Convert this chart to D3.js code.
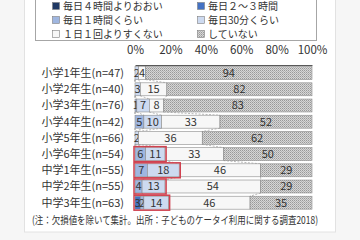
<!DOCTYPE html>
<html lang="ja">

<head>
    <meta charset="utf-8">
    <script src='https://d3js.org/d3.v7.min.js'></script>
</head>

<body style="margin:0;background:#f6f6f6;">

    <style>
        svg text {
            font-family: "Noto Sans CJK JP", "Noto Sans", sans-serif;
            fill: #333;
        }
    </style>

    <script>
        // rows (top to bottom)
        let grades = ["小学1年生(n=47)", "小学2年生(n=40)", "小学3年生(n=76)", "小学4年生(n=42)", "小学5年生(n=66)",
            "小学6年生(n=54)", "中学1年生(n=55)", "中学2年生(n=55)", "中学3年生(n=63)"];

        // series, percent per grade
        let h4 = [0, 0, 0, 0, 0, 0, 0, 0, 0];
        let h23 = [0, 0, 0, 0, 0, 0, 0, 0, 3];
        let h1 = [0, 0, 1, 5, 0, 6, 7, 4, 2];
        let m30 = [2, 3, 7, 10, 2, 11, 18, 13, 14];
        let lt1 = [4, 15, 8, 33, 36, 33, 46, 54, 46];
        let none = [94, 82, 83, 52, 62, 50, 29, 29, 35];

        let seriesNames = ["毎日４時間よりおおい", "毎日２～３時間", "毎日１時間くらい", "毎日30分くらい", "１日１回よりすくない", "していない"];
        let tickValues = [0, 20, 40, 60, 80, 100];
        let marked = ["小学6年生(n=54)", "中学1年生(n=55)", "中学2年生(n=55)", "中学3年生(n=63)"];

        let keys = ["h4", "h23", "h1", "m30", "lt1", "none"];
        let colors = ["#1f3864", "#4472c4", "#9fb6e0", "#cddaf0", "#f7f7f7", "url(#dots)"];

        let rows = grades.map(function(g, i) {
            return { grade: g, h4: h4[i], h23: h23[i], h1: h1[i], m30: m30[i], lt1: lt1[i], none: none[i] };
        });

        let svg = d3.select("body").append("svg")
            .attr("width", 360)
            .attr("height", 240)
            .style("display", "block");

        // dotted fill like the excel pattern
        let pat = svg.append("defs").append("pattern")
            .attr("id", "dots")
            .attr("width", 2).attr("height", 2)
            .attr("patternUnits", "userSpaceOnUse");
        pat.append("rect").attr("width", 2).attr("height", 2).attr("fill", "#d6d6d6");
        pat.append("rect").attr("width", 1).attr("height", 1).attr("fill", "#999");
        pat.append("rect").attr("x", 1).attr("y", 1).attr("width", 1).attr("height", 1).attr("fill", "#b2b2b2");

        // white card
        svg.append("rect")
            .attr("x", 24.5).attr("y", -2)
            .attr("width", 311).attr("height", 234)
            .attr("fill", "#fff")
            .attr("stroke", "#e2e2e2");

        // legend box
        svg.append("rect")
            .attr("x", 35.5).attr("y", -1.5)
            .attr("width", 281).attr("height", 42)
            .attr("fill", "#fff")
            .attr("stroke", "#a6a6a6");

        let leg = svg.selectAll(".leg")
            .data(seriesNames)
            .enter()
            .append("g")
            .attr("class", "leg")
            .attr("transform", function(d, i) {
                return "translate(" + (i % 2 == 0 ? 52 : 197) + "," + (6 + Math.floor(i / 2) * 14) + ")";
            });
        leg.append("rect")
            .attr("x", 0.5).attr("y", -3.5)
            .attr("width", 7).attr("height", 7)
            .attr("fill", function(d, i) { return colors[i]; })
            .attr("stroke", "#7f7f7f")
            .attr("stroke-width", 0.6);
        leg.append("text")
            .attr("x", 11)
            .attr("dy", "0.36em")
            .style("font-size", "10px")
            .text(function(d) { return d; });

        let x = d3.scaleLinear().domain([0, 1]).range([135, 312]);
        let y = d3.scaleBand().domain(grades).range([65, 210.8]).paddingInner(0.2).paddingOuter(0.1);

        let stacked = d3.stack().keys(keys).offset(d3.stackOffsetExpand)(rows);

        // axis on top
        let axis = svg.append("g")
            .attr("transform", "translate(0,65)")
            .call(d3.axisTop(d3.scaleLinear().domain([0, 100]).range([135, 312]))
                .tickValues(tickValues)
                .tickSize(0)
                .tickPadding(11)
                .tickFormat(function(d) { return d + "%"; }));
        axis.select(".domain").attr("stroke", "#595959").attr("stroke-width", 1.2);
        axis.selectAll("text")
            .style("font-size", "11.5px")
            .style("font-family", "'Noto Sans CJK JP', sans-serif")
            .attr("fill", "#333");

        // row labels
        svg.selectAll(".rowlab")
            .data(grades)
            .enter()
            .append("text")
            .attr("class", "rowlab")
            .attr("x", 124)
            .attr("y", function(d) { return y(d) + y.bandwidth() / 2; })
            .attr("dy", "0.36em")
            .attr("text-anchor", "end")
            .style("font-size", "11px")
            .text(function(d) { return d; });

        // series lines between bars
        let lines = [];
        stacked.slice(0, keys.length - 1).forEach(function(s) {
            for (let i = 0; i < s.length - 1; i++) {
                lines.push({ x1: x(s[i][1]), y1: y(grades[i]) + y.bandwidth(), x2: x(s[i + 1][1]), y2: y(grades[i + 1]) });
            }
        });
        svg.selectAll(".sline")
            .data(lines)
            .enter()
            .append("line")
            .attr("class", "sline")
            .attr("x1", function(d) { return d.x1; })
            .attr("y1", function(d) { return d.y1; })
            .attr("x2", function(d) { return d.x2; })
            .attr("y2", function(d) { return d.y2; })
            .attr("stroke", "#9a9a9a")
            .attr("stroke-width", 0.7)
            .attr("stroke-dasharray", "2,1.5");

        let layer = svg.selectAll(".layer")
            .data(stacked)
            .enter()
            .append("g")
            .attr("class", "layer")
            .attr("fill", function(d, i) { return colors[i]; });

        layer.selectAll("rect")
            .data(function(d) { return d; })
            .enter()
            .append("rect")
            .attr("x", function(d) { return x(d[0]); })
            .attr("y", function(d) { return y(d.data.grade); })
            .attr("width", function(d) { return x(d[1]) - x(d[0]); })
            .attr("height", y.bandwidth())
            .attr("stroke", "#8c8c8c")
            .attr("stroke-width", 0.6);

        // value labels
        layer.selectAll("text")
            .data(function(d) {
                return d.map(function(p) { p.key = d.key; return p; });
            })
            .enter()
            .filter(function(d) { return d.data[d.key] > 0; })
            .append("text")
            .attr("x", function(d) { return (x(d[0]) + x(d[1])) / 2; })
            .attr("y", function(d) { return y(d.data.grade) + y.bandwidth() / 2; })
            .attr("dy", "0.36em")
            .attr("text-anchor", "middle")
            .style("font-size", "11px")
            .text(function(d) { return d.data[d.key]; });

        // red boxes around the short daily use part
        svg.selectAll(".mark")
            .data(marked)
            .enter()
            .append("rect")
            .attr("class", "mark")
            .attr("x", x(0) - 1)
            .attr("y", function(d) { return y(d) - 1; })
            .attr("width", function(d) {
                let i = grades.indexOf(d);
                return x(stacked[3][i][1]) - x(0) + 2;
            })
            .attr("height", y.bandwidth() + 2)
            .attr("fill", "none")
            .attr("stroke", "#d0414f")
            .attr("stroke-width", 1.5);

        // footnote
        svg.append("text")
            .attr("x", 32)
            .attr("y", 224)
            .attr("textLength", 286)
            .attr("lengthAdjust", "spacingAndGlyphs")
            .style("font-size", "10.5px")
            .text("(注：欠損値を除いて集計。出所：子どものケータイ利用に関する調査2018)");
    </script>
</body>

</html>
